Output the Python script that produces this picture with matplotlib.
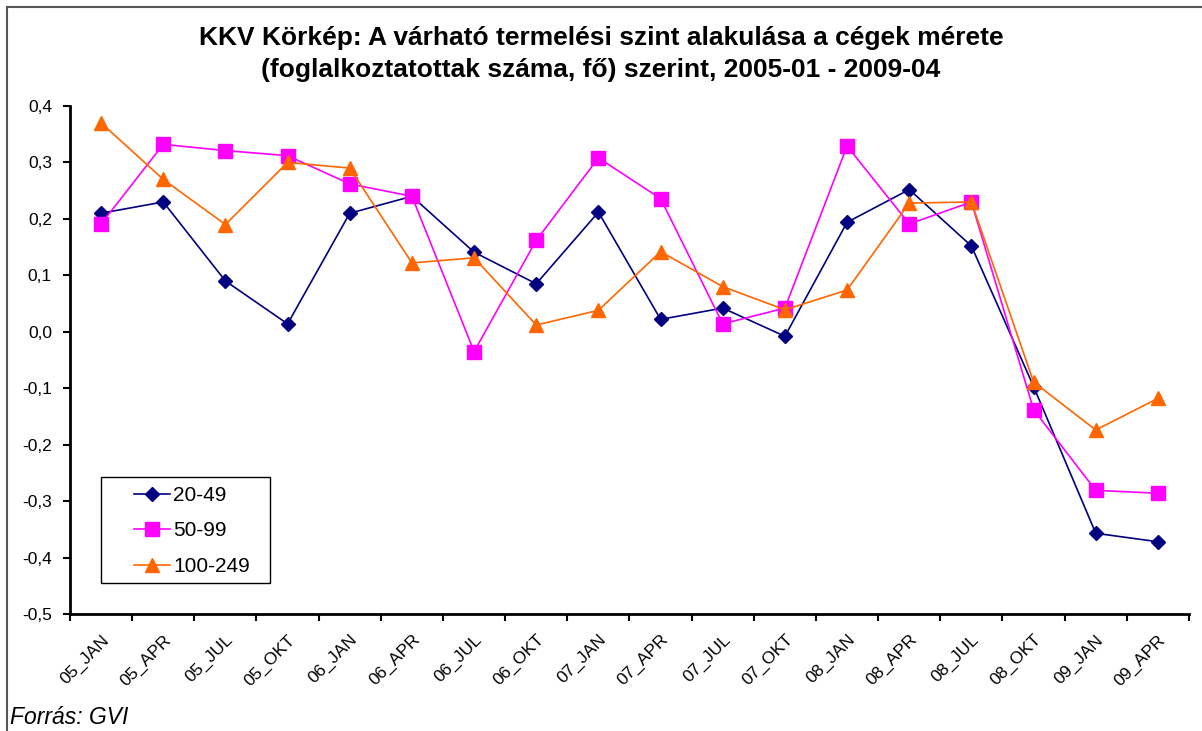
import matplotlib.pyplot as plt
import numpy as np
from matplotlib.patches import Rectangle

plt.rcParams["font.family"] = ["Liberation Sans", "DejaVu Sans"]

categories = [
    "05_JAN", "05_APR", "05_JUL", "05_OKT", "06_JAN", "06_APR",
    "06_JUL", "06_OKT", "07_JAN", "07_APR", "07_JUL", "07_OKT",
    "08_JAN", "08_APR", "08_JUL", "08_OKT", "09_JAN", "09_APR",
]
s_20_49 = [0.21, 0.23, 0.09, 0.014, 0.21, 0.24, 0.141, 0.085, 0.212,
           0.022, 0.042, -0.008, 0.194, 0.252, 0.152, -0.097, -0.357, -0.372]
s_50_99 = [0.191, 0.332, 0.321, 0.312, 0.262, 0.24, -0.035, 0.162, 0.308,
           0.236, 0.014, 0.042, 0.329, 0.191, 0.23, -0.138, -0.281, -0.286]
s_100_249 = [0.37, 0.27, 0.19, 0.30, 0.29, 0.122, 0.131, 0.012, 0.038,
             0.142, 0.08, 0.039, 0.074, 0.228, 0.23, -0.089, -0.174, -0.118]
yticks = [-0.5, -0.4, -0.3, -0.2, -0.1, 0.0, 0.1, 0.2, 0.3, 0.4]

W, H = 1202, 731
fig = plt.figure(figsize=(W / 100, H / 100), dpi=100)
ax = fig.add_axes([70 / W, 1 - 614 / H, (1189 - 70) / W, (614 - 106) / H])

x = np.arange(len(categories))
ax.plot(x, s_20_49, color="#000080", marker="D", ms=7, lw=1.2, label="20-49")
ax.plot(x, s_50_99, color="#FF00FF", marker="s", ms=10, lw=1.2, label="50-99")
ax.plot(x, s_100_249, color="#FF6600", marker="^", ms=10, lw=1.2, label="100-249")

ax.set_xlim(-0.5, len(categories) - 0.5)
ax.set_ylim(-0.5, 0.4)
ax.set_yticks(yticks)
ax.set_yticklabels([f"{v:.1f}".replace(".", ",") for v in yticks], fontsize=12.5)
ax.set_xticks(np.arange(-0.5, len(categories), 1.0))
ax.set_xticklabels([])
ax.set_xticks(x, minor=True)
ax.set_xticklabels(categories, minor=True, rotation=45, ha="right",
                   rotation_mode="anchor", fontsize=12.5)
ax.tick_params(axis="x", which="minor", length=0, pad=13)
ax.tick_params(axis="x", which="major", length=5, width=1.5, direction="out")
ax.tick_params(axis="y", length=5, width=1.5, direction="out", pad=8)

for side in ["top", "right"]:
    ax.spines[side].set_visible(False)
for side in ["left", "bottom"]:
    ax.spines[side].set_linewidth(2)

# legend: entries without frame, Excel-style box drawn separately
leg = ax.legend(loc="center left",
                bbox_to_anchor=((124 - 70) / 1119, (614 - 531) / 508),
                fontsize=15, frameon=False, handlelength=1.7,
                borderpad=0, labelspacing=0.8, handletextpad=0.15)
ax.add_patch(Rectangle(((101 - 70) / 1119, (614 - 583) / 508),
                       (270 - 101) / 1119, (583 - 477) / 508,
                       transform=ax.transAxes, fill=False,
                       edgecolor="black", lw=1.0, zorder=5))

fig.text(0.5, 1 - 54 / H,
         "KKV Körkép: A várható termelési szint alakulása a cégek mérete\n"
         "(foglalkoztatottak száma, fő) szerint, 2005-01 - 2009-04",
         ha="center", va="center", fontsize=19, fontweight="bold", linespacing=1.4)
fig.text(10 / W, 1 - 717 / H, "Forrás: GVI", ha="left", va="center",
         fontsize=16.5, style="italic")

fig.patches.append(Rectangle((7 / W, -0.1), 1.2, 1 - 7 / H + 0.1,
                             transform=fig.transFigure, fill=False,
                             edgecolor="#555555", lw=1.5))

fig.savefig("out.png", dpi=100)
